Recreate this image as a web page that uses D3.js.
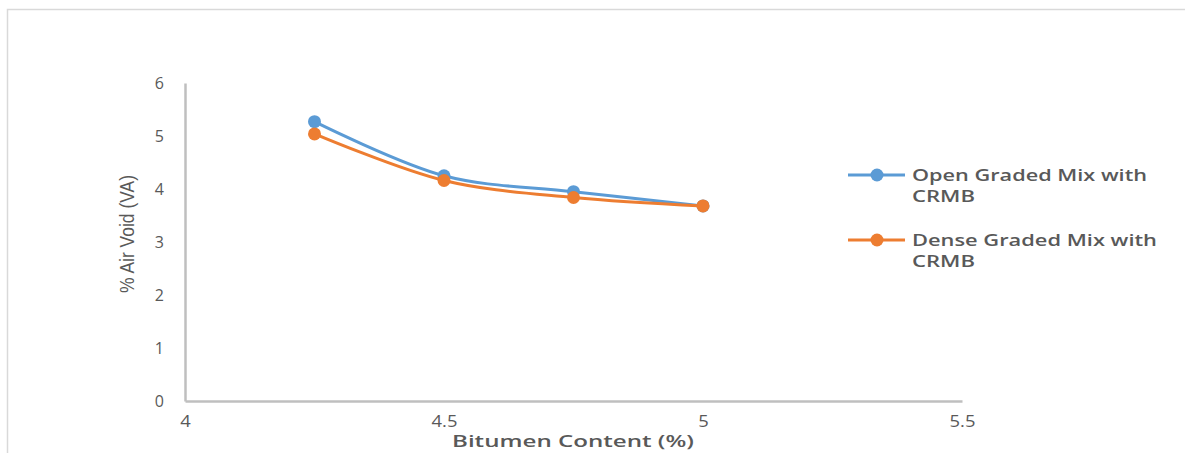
<!DOCTYPE html>
<html>
<head>
<meta charset="utf-8">
<script src="https://cdn.jsdelivr.net/npm/d3@7/dist/d3.min.js"></script>
<style>
  html, body { margin: 0; padding: 0; background: #fff; }
  svg { display: block; }
</style>
</head>
<body>
<svg id="chart" width="1185" height="453"></svg>
<script>
// Bitumen content (%) on the x axis
const bitumen = [4.25, 4.5, 4.75, 5.0];
// % air void for each mix
const openGraded = [5.27, 4.25, 3.95, 3.68];
const denseGraded = [5.04, 4.16, 3.84, 3.68];
const seriesNames = [["Open Graded Mix with", "CRMB"], ["Dense Graded Mix with", "CRMB"]];
const seriesColors = ["#5B9BD5", "#ED7D31"];
const xTicks = [4, 4.5, 5, 5.5];
const yTicks = [0, 1, 2, 3, 4, 5, 6];

const svg = d3.select("#chart");
const font = "'Open Sans', 'Liberation Sans', sans-serif";
const textColor = "#595959";

// chart area frame
svg.append("path")
  .attr("d", "M7.5,453 V9.5 H1185")
  .attr("fill", "none")
  .attr("stroke", "#d9d9d9")
  .attr("stroke-width", 1.5);

const x = d3.scaleLinear().domain([4, 5.5]).range([185, 962]);
const y = d3.scaleLinear().domain([0, 6]).range([401, 83]);

// axes
const xAxis = svg.append("g").attr("transform", `translate(0,${y(0)})`)
  .call(d3.axisBottom(x).tickValues(xTicks).tickSize(0).tickPadding(15)
    .tickFormat(d => String(d)));
const yAxis = svg.append("g").attr("transform", `translate(${x(4)},0)`)
  .call(d3.axisLeft(y).tickValues(yTicks).tickSize(0).tickPadding(24)
    .tickFormat(d => String(d)));

[xAxis, yAxis].forEach(g => {
  g.select(".domain").attr("stroke", "#bfbfbf").attr("stroke-width", 2.5);
  g.selectAll("text").attr("fill", textColor).attr("font-family", font)
    .attr("font-size", 16);
});
yAxis.selectAll("text").attr("text-anchor", "middle").attr("dx", "-0.1em");
// slightly wider tick digits on the x axis (each label sits at x = 0 in its tick group)
xAxis.selectAll("text").attr("transform", "scale(1.15,1)");

// axis titles
svg.append("text")
  .attr("x", 452).attr("y", 447)
  .attr("font-family", font).attr("font-weight", 600).attr("font-size", 17)
  .attr("textLength", 242).attr("lengthAdjust", "spacingAndGlyphs")
  .attr("fill", textColor)
  .text("Bitumen Content (%)");

svg.append("text")
  .attr("transform", "translate(134,234) rotate(-90)")
  .attr("text-anchor", "middle")
  .attr("font-family", "'Liberation Sans', Arial, sans-serif")
  .attr("font-size", 20)
  .attr("textLength", 118).attr("lengthAdjust", "spacingAndGlyphs")
  .attr("fill", textColor)
  .text("% Air Void (VA)");

// series lines with markers
const line = d3.line().x((d, i) => x(bitumen[i])).y(d => y(d)).curve(d3.curveCatmullRom.alpha(0.5));
[openGraded, denseGraded].forEach((vals, s) => {
  svg.append("path")
    .datum(vals)
    .attr("d", line)
    .attr("fill", "none")
    .attr("stroke", seriesColors[s])
    .attr("stroke-width", 3)
    .attr("stroke-linecap", "round");
  svg.selectAll(null).data(vals).enter().append("circle")
    .attr("cx", (d, i) => x(bitumen[i]))
    .attr("cy", d => y(d))
    .attr("r", 6.5)
    .attr("fill", seriesColors[s]);
});

// legend
const legendY = [175, 240];
const legendWidths = [[235, 63], [245, 63]];
seriesNames.forEach((lines, s) => {
  const g = svg.append("g").attr("transform", `translate(0,${legendY[s]})`);
  g.append("line").attr("x1", 848).attr("x2", 905).attr("y1", 0).attr("y2", 0)
    .attr("stroke", seriesColors[s]).attr("stroke-width", 3);
  g.append("circle").attr("cx", 877).attr("cy", 0).attr("r", 6.5).attr("fill", seriesColors[s]);
  lines.forEach((t, k) => {
    g.append("text")
      .attr("x", 912).attr("y", k * 21 + 6)
      .attr("font-family", font).attr("font-weight", 600).attr("font-size", 17)
      .attr("textLength", legendWidths[s][k]).attr("lengthAdjust", "spacingAndGlyphs")
      .attr("fill", textColor)
      .text(t);
  });
});
</script>
</body>
</html>
